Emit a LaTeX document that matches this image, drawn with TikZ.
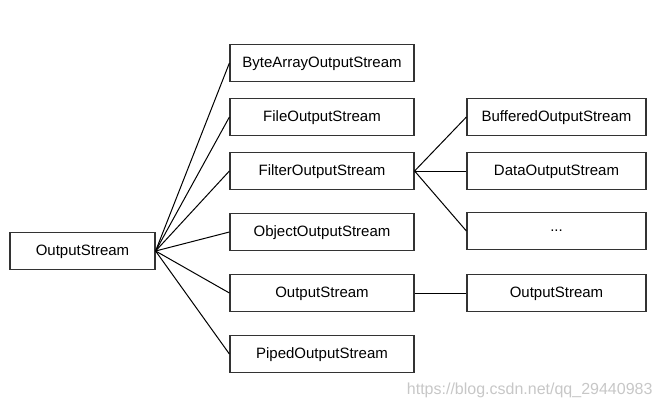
\documentclass[tikz,border=0pt]{standalone}
\usepackage{fontspec}
\setmainfont{Liberation Sans}
\usepackage{tikz}
\usetikzlibrary{positioning}
\tikzset{
  classbox/.style={draw=black!80, line width=1.2pt, fill=white, align=center,
    font=\fontsize{15}{18}\selectfont, minimum height=37pt, inner sep=2pt,
    text depth=1pt},
  midbox/.style={classbox, minimum width=184pt},
  rightbox/.style={classbox, minimum width=179pt},
  branch/.style={line width=1pt, black},
}

\begin{document}
\begin{tikzpicture}[x=1pt, y=-1pt]
  \useasboundingbox (0,0) rectangle (664,409);
  % 根
  \node[classbox, minimum width=145pt] (root) at (82.5,251) {OutputStream};
  % 第二列
  \node[midbox] (baos)   at (322,63)  {ByteArrayOutputStream};
  \node[midbox] (fos)    at (322,117) {FileOutputStream};
  \node[midbox] (filter) at (322,171) {FilterOutputStream};
  \node[midbox] (oos)    at (322,232) {ObjectOutputStream};
  \node[midbox] (os)     at (322,293) {OutputStream};
  \node[midbox] (pos)    at (322,354) {PipedOutputStream};
  % 第三列
  \node[rightbox] (bos)  at (556.5,117) {BufferedOutputStream};
  \node[rightbox] (dos)  at (556.5,171) {DataOutputStream};
  \node[rightbox] (etc)  at (556.5,231) {...};
  \node[rightbox] (os2)  at (556.5,293) {OutputStream};
  % 连线
  \foreach \n in {baos,fos,filter,oos,os,pos}
    \draw[branch] (root.east) -- (\n.west);
  \foreach \n in {bos,dos,etc}
    \draw[branch] (filter.east) -- (\n.west);
  \draw[branch] (os.east) -- (os2.west);
  % 水印
  \node[font=\fontsize{16}{19}\selectfont, text=black!22, anchor=east] (mark)
    at (656,390) {https://blog.csdn.net/qq\_29440983};
\end{tikzpicture}
\end{document}
